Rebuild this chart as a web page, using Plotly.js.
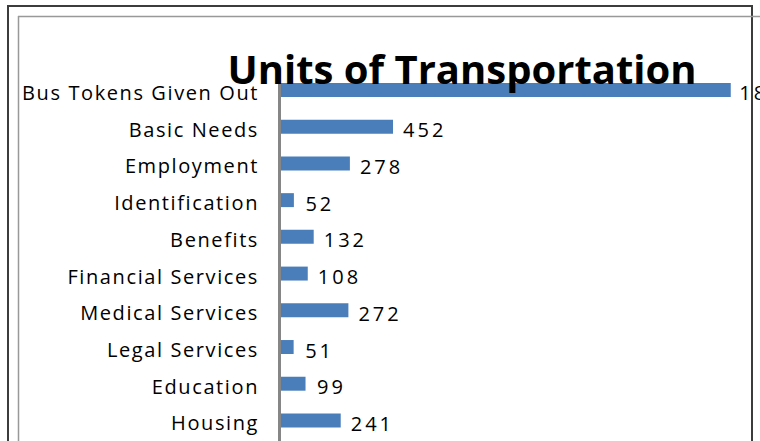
<!DOCTYPE html>
<html><head><meta charset="utf-8">
<script src="https://cdn.plot.ly/plotly-3.0.1.min.js"></script>
<style>html,body{margin:0;padding:0;background:#fff;overflow:hidden}#chart{width:760px;height:441px}
#chart .ytick text{letter-spacing:1.6px}
#chart .bartext{letter-spacing:3px}
</style>
</head><body><div id="chart"></div>
<script>
const categories = ["Bus Tokens Given Out","Basic Needs","Employment","Identification","Benefits","Financial Services","Medical Services","Legal Services","Education","Housing"];
const values = [1815,452,278,52,132,108,272,51,99,241];
const chartTitle = "Units of Transportation";

const W = 760, H = 441, L = 281, R = 0, T = 83, B = 0;
const pw = W - L - R, ph = H - T - B;
const px = x => (x - L) / pw;
const py = y => 1 - (y - T) / ph;
const fam = "Open Sans, sans-serif";

const trace = {
  type: "bar", orientation: "h",
  y: categories, x: values,
  marker: {color: "#4A7EBB"},
  text: values.map(v => String(v)),
  textposition: "outside",
  constraintext: "none",
  texttemplate: "\u2002%{text}",
  cliponaxis: false,
  textfont: {family: fam, size: 20, color: "#000"},
  hoverinfo: "none"
};

const layout = {
  width: W, height: H,
  margin: {l: L, r: R, t: T, b: B, pad: 0},
  paper_bgcolor: "#fff", plot_bgcolor: "rgba(0,0,0,0)",
  showlegend: false,
  bargap: 0.62,
  title: {text: "<b>" + chartTitle + "</b>", font: {family: fam, size: 40, color: "#000"},
          x: 462/W, xanchor: "center", xref: "container",
          y: 1 - 84/H, yanchor: "bottom", yref: "container"},
  xaxis: {range: [0, 1933], visible: false, fixedrange: true},
  yaxis: {type: "category", autorange: false, range: [9.56, -0.19],
          showline: true, linecolor: "#868686", linewidth: 3,
          showgrid: false, zeroline: false, ticks: "",
          ticklabelstandoff: 15,
          tickfont: {family: fam, size: 20, color: "#000"}},
  shapes: [
    {type: "rect", xref: "paper", yref: "paper", x0: px(8), x1: px(752), y0: py(6), y1: py(460),
     line: {color: "#3c3c3c", width: 2}, fillcolor: "rgba(0,0,0,0)", layer: "below"},
    {type: "line", xref: "paper", yref: "paper", x0: px(18), x1: px(770), y0: py(16.5), y1: py(16.5),
     line: {color: "#999", width: 1.5}, layer: "below"},
    {type: "line", xref: "paper", yref: "paper", x0: px(18.5), x1: px(18.5), y0: py(16), y1: py(460),
     line: {color: "#999", width: 1.5}, layer: "below"}
  ]
};
Plotly.newPlot("chart", [trace], layout, {displayModeBar: false, staticPlot: true}).then(gd => {
  // nudge label text down slightly to match the reference baseline
  gd.querySelectorAll(".ytick text, .bartext").forEach(t => {
    const y = parseFloat(t.getAttribute("y") || "0");
    t.setAttribute("y", y + 3);
  });
});
</script></body></html>
